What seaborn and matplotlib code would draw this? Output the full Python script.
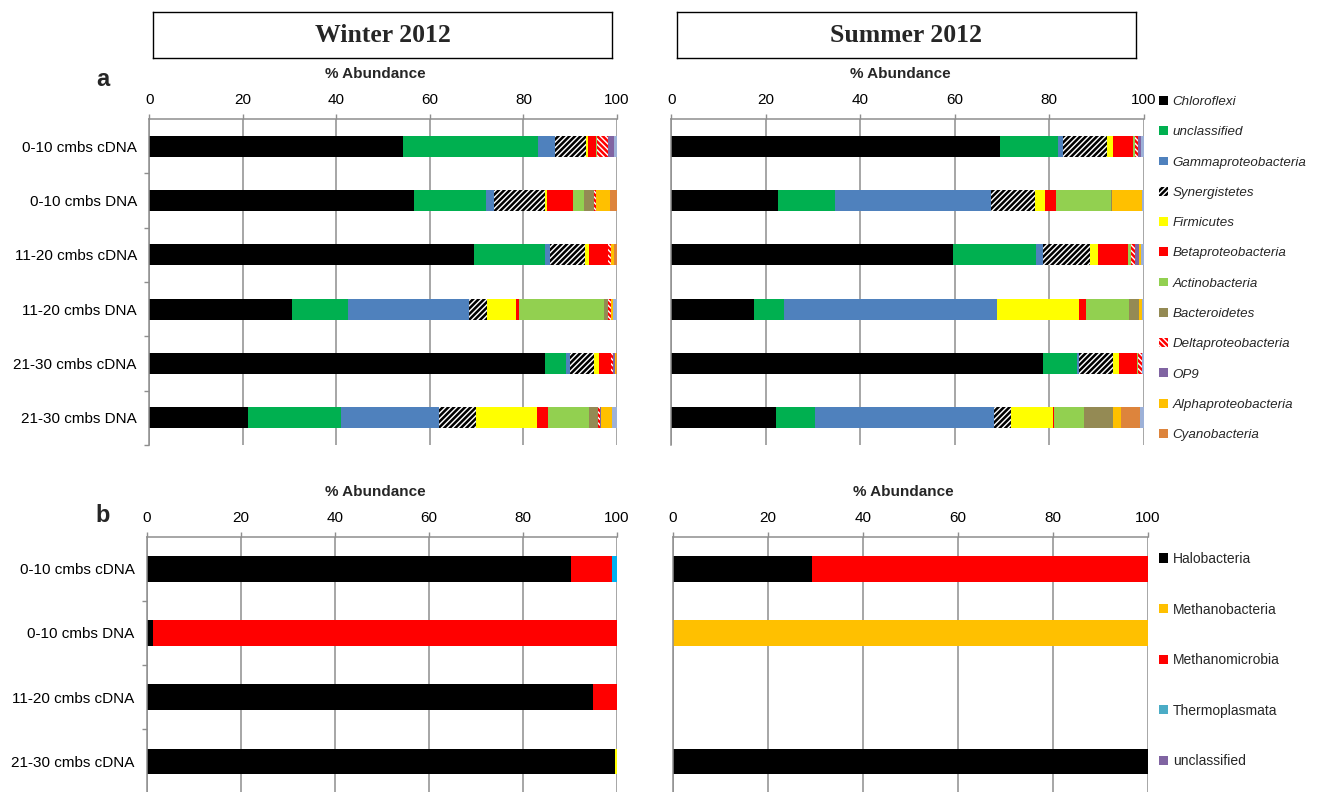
import numpy as np
import pandas as pd
import matplotlib
matplotlib.use("Agg")
import matplotlib.pyplot as plt
from matplotlib.patches import Patch
import seaborn as sns

sns.set_theme(style="white")
plt.rcParams["font.family"] = ["Liberation Sans", "DejaVu Sans"]
plt.rcParams["hatch.linewidth"] = 1.8

# ---------------------------------------------------------------- data
samples_a = ["0-10 cmbs cDNA", "0-10 cmbs DNA", "11-20 cmbs cDNA",
             "11-20 cmbs DNA", "21-30 cmbs cDNA", "21-30 cmbs DNA"]
samples_b = ["0-10 cmbs cDNA", "0-10 cmbs DNA", "11-20 cmbs cDNA",
             "21-30 cmbs cDNA"]

bacteria = ["Chloroflexi", "unclassified", "Gammaproteobacteria",
            "Synergistetes", "Firmicutes", "Betaproteobacteria",
            "Actinobacteria", "Bacteroidetes", "Deltaproteobacteria",
            "OP9", "Alphaproteobacteria", "Cyanobacteria", "Other"]

# % abundance of each bacterial class, in the order of `bacteria`
winter_0_10_cDNA = [54.2, 29.0, 3.5, 6.7, 0.4, 1.8, 0.2, 0.0, 2.2, 1.3, 0.0, 0.0, 0.7]
winter_0_10_DNA = [56.6, 15.4, 1.8, 10.9, 0.3, 5.6, 2.3, 2.1, 0.6, 0.0, 3.0, 1.4, 0.0]
winter_11_20_cDNA = [69.5, 15.2, 1.0, 7.4, 1.0, 4.0, 0.0, 0.0, 0.7, 0.0, 0.5, 0.7, 0.0]
winter_11_20_DNA = [30.6, 11.8, 25.9, 3.9, 6.2, 0.6, 18.3, 0.8, 0.7, 0.0, 0.3, 0.0, 0.9]
winter_21_30_cDNA = [84.5, 4.6, 0.9, 5.1, 1.0, 2.6, 0.0, 0.0, 0.4, 0.4, 0.3, 0.2, 0.0]
winter_21_30_DNA = [21.2, 19.7, 21.1, 7.8, 13.1, 2.4, 8.7, 1.9, 0.5, 0.2, 2.3, 0.0, 1.1]

summer_0_10_cDNA = [69.6, 12.3, 1.1, 9.3, 1.1, 4.4, 0.3, 0.0, 0.7, 0.7, 0.0, 0.0, 0.5]
summer_0_10_DNA = [22.6, 12.1, 33.0, 9.3, 2.1, 2.3, 11.6, 0.2, 0.0, 0.0, 6.5, 0.0, 0.3]
summer_11_20_cDNA = [59.7, 17.4, 1.6, 9.9, 1.8, 6.2, 0.7, 0.0, 0.9, 0.8, 0.5, 0.0, 0.5]
summer_11_20_DNA = [17.5, 6.4, 45.1, 0.0, 17.3, 1.5, 9.1, 2.0, 0.0, 0.0, 0.7, 0.0, 0.4]
summer_21_30_cDNA = [78.7, 7.1, 0.6, 7.0, 1.4, 3.8, 0.2, 0.0, 0.8, 0.0, 0.0, 0.0, 0.4]
summer_21_30_DNA = [22.2, 8.3, 37.9, 3.5, 8.8, 0.3, 6.4, 6.0, 0.2, 0.0, 1.6, 4.0, 0.8]

archaea = ["Halobacteria", "Methanobacteria", "Methanomicrobia",
           "Thermoplasmata", "unclassified"]

winter_arch_0_10_cDNA = [90.2, 0.0, 8.7, 1.1, 0.0]
winter_arch_0_10_DNA = [1.2, 0.0, 98.8, 0.0, 0.0]
winter_arch_11_20_cDNA = [94.8, 0.0, 5.2, 0.0, 0.0]
winter_arch_21_30_cDNA = [99.5, 0.5, 0.0, 0.0, 0.0]

summer_arch_0_10_cDNA = [29.2, 0.0, 70.8, 0.0, 0.0]
summer_arch_0_10_DNA = [0.0, 100.0, 0.0, 0.0, 0.0]
summer_arch_11_20_cDNA = [0.0, 0.0, 0.0, 0.0, 0.0]
summer_arch_21_30_cDNA = [100.0, 0.0, 0.0, 0.0, 0.0]

# ---------------------------------------------------------------- styles
# (facecolor, hatch colour, hatch pattern)
bact_style = {
    "Chloroflexi": ("#000000", None, None),
    "unclassified": ("#00B050", None, None),
    "Gammaproteobacteria": ("#4F81BD", None, None),
    "Synergistetes": ("#FFFFFF", "#000000", "//////"),
    "Firmicutes": ("#FFFF00", None, None),
    "Betaproteobacteria": ("#FF0000", None, None),
    "Actinobacteria": ("#92D050", None, None),
    "Bacteroidetes": ("#948A54", None, None),
    "Deltaproteobacteria": ("#FFFFFF", "#FF0000", "\\\\\\\\\\\\"),
    "OP9": ("#8064A2", None, None),
    "Alphaproteobacteria": ("#FFC000", None, None),
    "Cyanobacteria": ("#DD843C", None, None),
    "Other": ("#9DB1D8", None, None),
}
arch_style_summer = {
    "Halobacteria": ("#000000", None, None),
    "Methanobacteria": ("#FFC000", None, None),
    "Methanomicrobia": ("#FF0000", None, None),
    "Thermoplasmata": ("#4BACC6", None, None),
    "unclassified": ("#8064A2", None, None),
}
arch_style_winter = dict(arch_style_summer)
arch_style_winter["Methanobacteria"] = ("#FFFF00", None, None)
arch_style_winter["Thermoplasmata"] = ("#00B0F0", None, None)

GRID = "#8E8E8E"
W, H = 1320, 792


def fig_rect(x0, y0, x1, y1):
    """Pixel box (top-left origin) -> figure fraction rect."""
    return [x0 / W, 1 - y1 / H, (x1 - x0) / W, (y1 - y0) / H]


def stacked(ax, samples, rows, taxa, style, width):
    values = np.array(rows)            # samples x taxa
    cum = np.cumsum(values, axis=1)
    # draw the longest cumulative bar first; each shorter one covers it
    for j in range(len(taxa) - 1, -1, -1):
        fc, hc, hatch = style[taxa[j]]
        df = pd.DataFrame({"sample": samples, "end": cum[:, j]})
        kw = dict(edgecolor=hc if hc else fc, linewidth=0)
        if hatch:
            kw["hatch"] = hatch
        sns.barplot(data=df, x="end", y="sample", order=samples, orient="y",
                    color=fc, saturation=1, width=width, errorbar=None,
                    ax=ax, **kw)
    if ax.get_legend() is not None:
        ax.get_legend().remove()


def style_axes(ax, show_labels, minor_ticks, label_x, label_y):
    ax.set_xlim(0, 100)
    ax.set_xticks([0, 20, 40, 60, 80, 100])
    ax.xaxis.tick_top()
    ax.xaxis.set_label_position("top")
    ax.set_xlabel("% Abundance", fontsize=11, fontweight="bold")
    ax.xaxis.set_label_coords(label_x, label_y)
    ax.xaxis.label.set_verticalalignment("center")
    ax.set_ylabel("")
    ax.grid(axis="x", color=GRID, linewidth=1.1)
    ax.grid(axis="y", visible=False)
    ax.set_axisbelow(True)
    for s in ("right", "bottom"):
        ax.spines[s].set_visible(False)
    for s in ("top", "left"):
        ax.spines[s].set_color(GRID)
        ax.spines[s].set_linewidth(1.1)
    ax.tick_params(axis="x", which="major", top=True, bottom=False,
                   length=3.6, width=1, color=GRID, labelsize=11, pad=5,
                   labelcolor="black")
    ax.tick_params(axis="y", which="major", left=False, length=0,
                   labelsize=11, pad=9, labelleft=show_labels,
                   labelcolor="black")
    n = len(ax.get_yticks())
    if minor_ticks:
        ax.set_yticks(np.arange(0.5, n, 1.0), minor=True)
        ax.tick_params(axis="y", which="minor", left=True, length=3.6,
                       width=1, color=GRID)


fig = plt.figure(figsize=(W / 100, H / 100), dpi=100)
fig.patch.set_facecolor("white")

# ---------------------------------------------------------------- panel a
ax_aw = fig.add_axes(fig_rect(149.3, 119, 617, 445))
ax_as = fig.add_axes(fig_rect(671.3, 119, 1143.7, 445))
stacked(ax_aw, samples_a,
        [winter_0_10_cDNA, winter_0_10_DNA, winter_11_20_cDNA,
         winter_11_20_DNA, winter_21_30_cDNA, winter_21_30_DNA],
        bacteria, bact_style, 0.39)
stacked(ax_as, samples_a,
        [summer_0_10_cDNA, summer_0_10_DNA, summer_11_20_cDNA,
         summer_11_20_DNA, summer_21_30_cDNA, summer_21_30_DNA],
        bacteria, bact_style, 0.39)
style_axes(ax_aw, True, True, 0.483, 1.138)
style_axes(ax_as, False, False, 0.485, 1.138)

# ---------------------------------------------------------------- panel b
ax_bw = fig.add_axes(fig_rect(147, 536.7, 617, 793.5))
ax_bs = fig.add_axes(fig_rect(673, 536.7, 1147.8, 793.5))
stacked(ax_bw, samples_b,
        [winter_arch_0_10_cDNA, winter_arch_0_10_DNA,
         winter_arch_11_20_cDNA, winter_arch_21_30_cDNA],
        archaea, arch_style_winter, 0.4)
stacked(ax_bs, samples_b,
        [summer_arch_0_10_cDNA, summer_arch_0_10_DNA,
         summer_arch_11_20_cDNA, summer_arch_21_30_cDNA],
        archaea, arch_style_summer, 0.4)
style_axes(ax_bw, True, True, 0.485, 1.174)
style_axes(ax_bs, False, False, 0.485, 1.174)

# ---------------------------------------------------------------- headers
for (x0, x1), title in (((153, 612), "Winter 2012"), ((677, 1136), "Summer 2012")):
    hax = fig.add_axes(fig_rect(x0, 12, x1, 58))
    hax.set_xticks([])
    hax.set_yticks([])
    for s in hax.spines.values():
        s.set_color("black")
        s.set_linewidth(1.0)
        s.set_visible(True)
    hax.text(0.5, 0.5, title, ha="center", va="center",
             family=["Liberation Serif", "DejaVu Serif"],
             fontweight="bold", fontsize=18.5, transform=hax.transAxes)

fig.text(103 / W, 1 - 80 / H, "a", ha="center", va="center",
         fontsize=17, fontweight="bold")
fig.text(103 / W, 1 - 516 / H, "b", ha="center", va="center",
         fontsize=17, fontweight="bold")

# ---------------------------------------------------------------- legends
def handle(style):
    fc, hc, hatch = style
    return Patch(facecolor=fc, edgecolor=hc if hc else fc, hatch=hatch,
                 linewidth=0)


legend_taxa = bacteria[:-1]
fig.legend([handle(bact_style[t]) for t in legend_taxa], legend_taxa,
           loc="upper left", bbox_to_anchor=(1159 / W, 1 - 96 / H),
           frameon=False, prop={"style": "italic", "size": 9.6},
           handlelength=0.65, handleheight=0.65, handletextpad=0.35,
           labelspacing=1.36, borderpad=0, borderaxespad=0)

fig.legend([handle(arch_style_summer[t]) for t in archaea], archaea,
           loc="upper left", bbox_to_anchor=(1159 / W, 1 - 552 / H),
           frameon=False, prop={"size": 10},
           handlelength=0.65, handleheight=0.65, handletextpad=0.35,
           labelspacing=2.63, borderpad=0, borderaxespad=0)

fig.savefig("out.png", dpi=100, facecolor="white")
